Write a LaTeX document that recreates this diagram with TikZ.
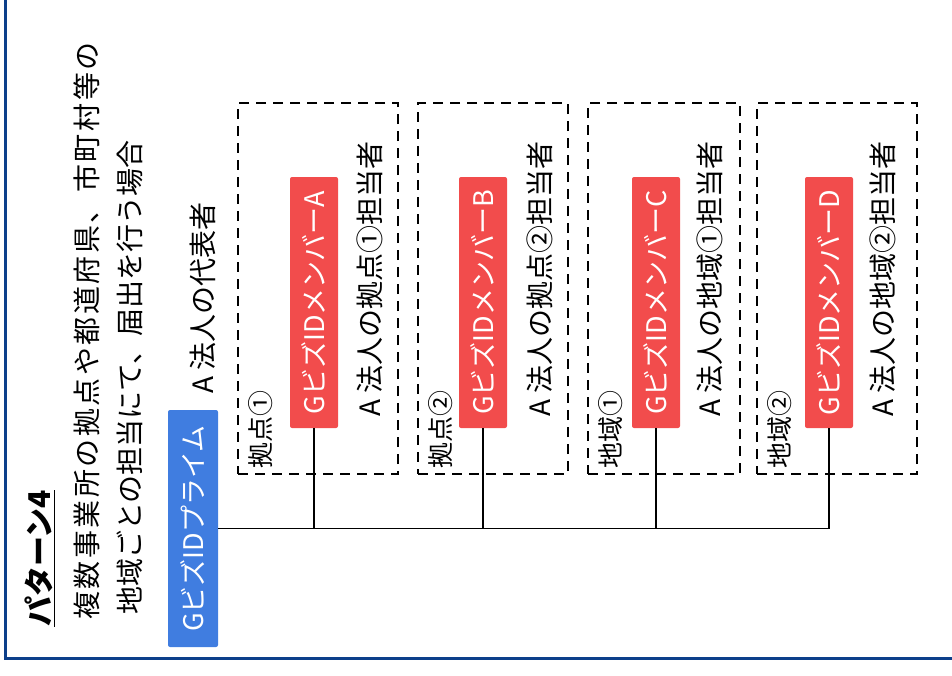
\documentclass[tikz,border=0pt]{standalone}
\usepackage{fontspec}
\setmainfont{Noto Sans CJK JP}
\usetikzlibrary{positioning}
\definecolor{primeblue}{RGB}{64,125,224}
\definecolor{memberred}{RGB}{242,76,76}
\definecolor{framenavy}{RGB}{12,63,138}

\begin{document}
\begin{tikzpicture}[x=1pt, y=-1pt,
    prime node/.style={rotate=90, fill=primeblue, text=white, rounded corners=2pt, minimum width=237pt, minimum height=50pt, inner sep=0pt, font=\fontsize{27}{30}\selectfont},
    member node/.style={rotate=90, fill=memberred, text=white, rounded corners=2pt, minimum width=251pt, minimum height=48pt, inner sep=0pt, font=\fontsize{27}{30}\selectfont},
    group box/.style={draw, line width=2.5pt, dash pattern=on 10pt off 7pt, minimum height=371pt, inner sep=0pt},
    side label/.style={rotate=90, anchor=west, inner sep=0pt}]
        \tikzstyle{every node}=[font=\fontsize{28}{32}\selectfont]

          \useasboundingbox (0,0) rectangle (952,675);
          \clip (0,0) rectangle (952,675);
          \draw[framenavy, line width=3pt] (5.5,-10) rectangle (990,658);

          % heading
          \node[side label, font=\fontsize{30}{34}\selectfont\bfseries] (title) at (40,627) {\underline{パターン4}};
          \node[side label, font=\fontsize{28}{32}\selectfont\addfontfeature{LetterSpace=9}] (d1) at (87,620) {複数事業所の拠点や都道府県、市町村等の};
          \node[side label, font=\fontsize{28}{32}\selectfont] (d2) at (130,615) {地域ごとの担当にて、届出を行う場合};

          % groups
          \node[group box, minimum width=160pt] (b1) at (318,288.5) {};
          \node[group box, minimum width=150pt] (b2) at (493,288.5) {};
          \node[group box, minimum width=152pt] (b3) at (664,288.5) {};
          \node[group box, minimum width=160pt] (b4) at (837,288.5) {};
          \node[side label, font=\fontsize{26}{30}\selectfont] at ([shift={(24,-7)}]b1.south west) {拠点①};
          \node[side label, font=\fontsize{26}{30}\selectfont] at ([shift={(24,-7)}]b2.south west) {拠点②};
          \node[side label, font=\fontsize{26}{30}\selectfont] at ([shift={(24,-7)}]b3.south west) {地域①};
          \node[side label, font=\fontsize{26}{30}\selectfont] at ([shift={(24,-7)}]b4.south west) {地域②};

          % accounts
          \node[prime node] (0) at (193,528.5) {GビズIDプライム};
          \node[side label] at (203,394) {A 法人の代表者};
          \node[member node] (1) at (314,302.5) {GビズIDメンバーA};
          \node[member node] (2) at (483,302.5) {GビズIDメンバーB};
          \node[member node] (3) at (656,302.5) {GビズIDメンバーC};
          \node[member node] (4) at (829,302.5) {GビズIDメンバーD};
          \node[side label] at (370,417) {A 法人の拠点①担当者};
          \node[side label] at (540,417) {A 法人の拠点②担当者};
          \node[side label] at (710,417) {A 法人の地域①担当者};
          \node[side label] at (883,417) {A 法人の地域②担当者};

          \draw[line width=1.5pt] (0.south) -| (4.west);
          \foreach \i in {1,2,3}
            \draw[line width=1.2pt] (\i.west) -- (\i.west |- 0.south);

\end{tikzpicture}
\end{document}
